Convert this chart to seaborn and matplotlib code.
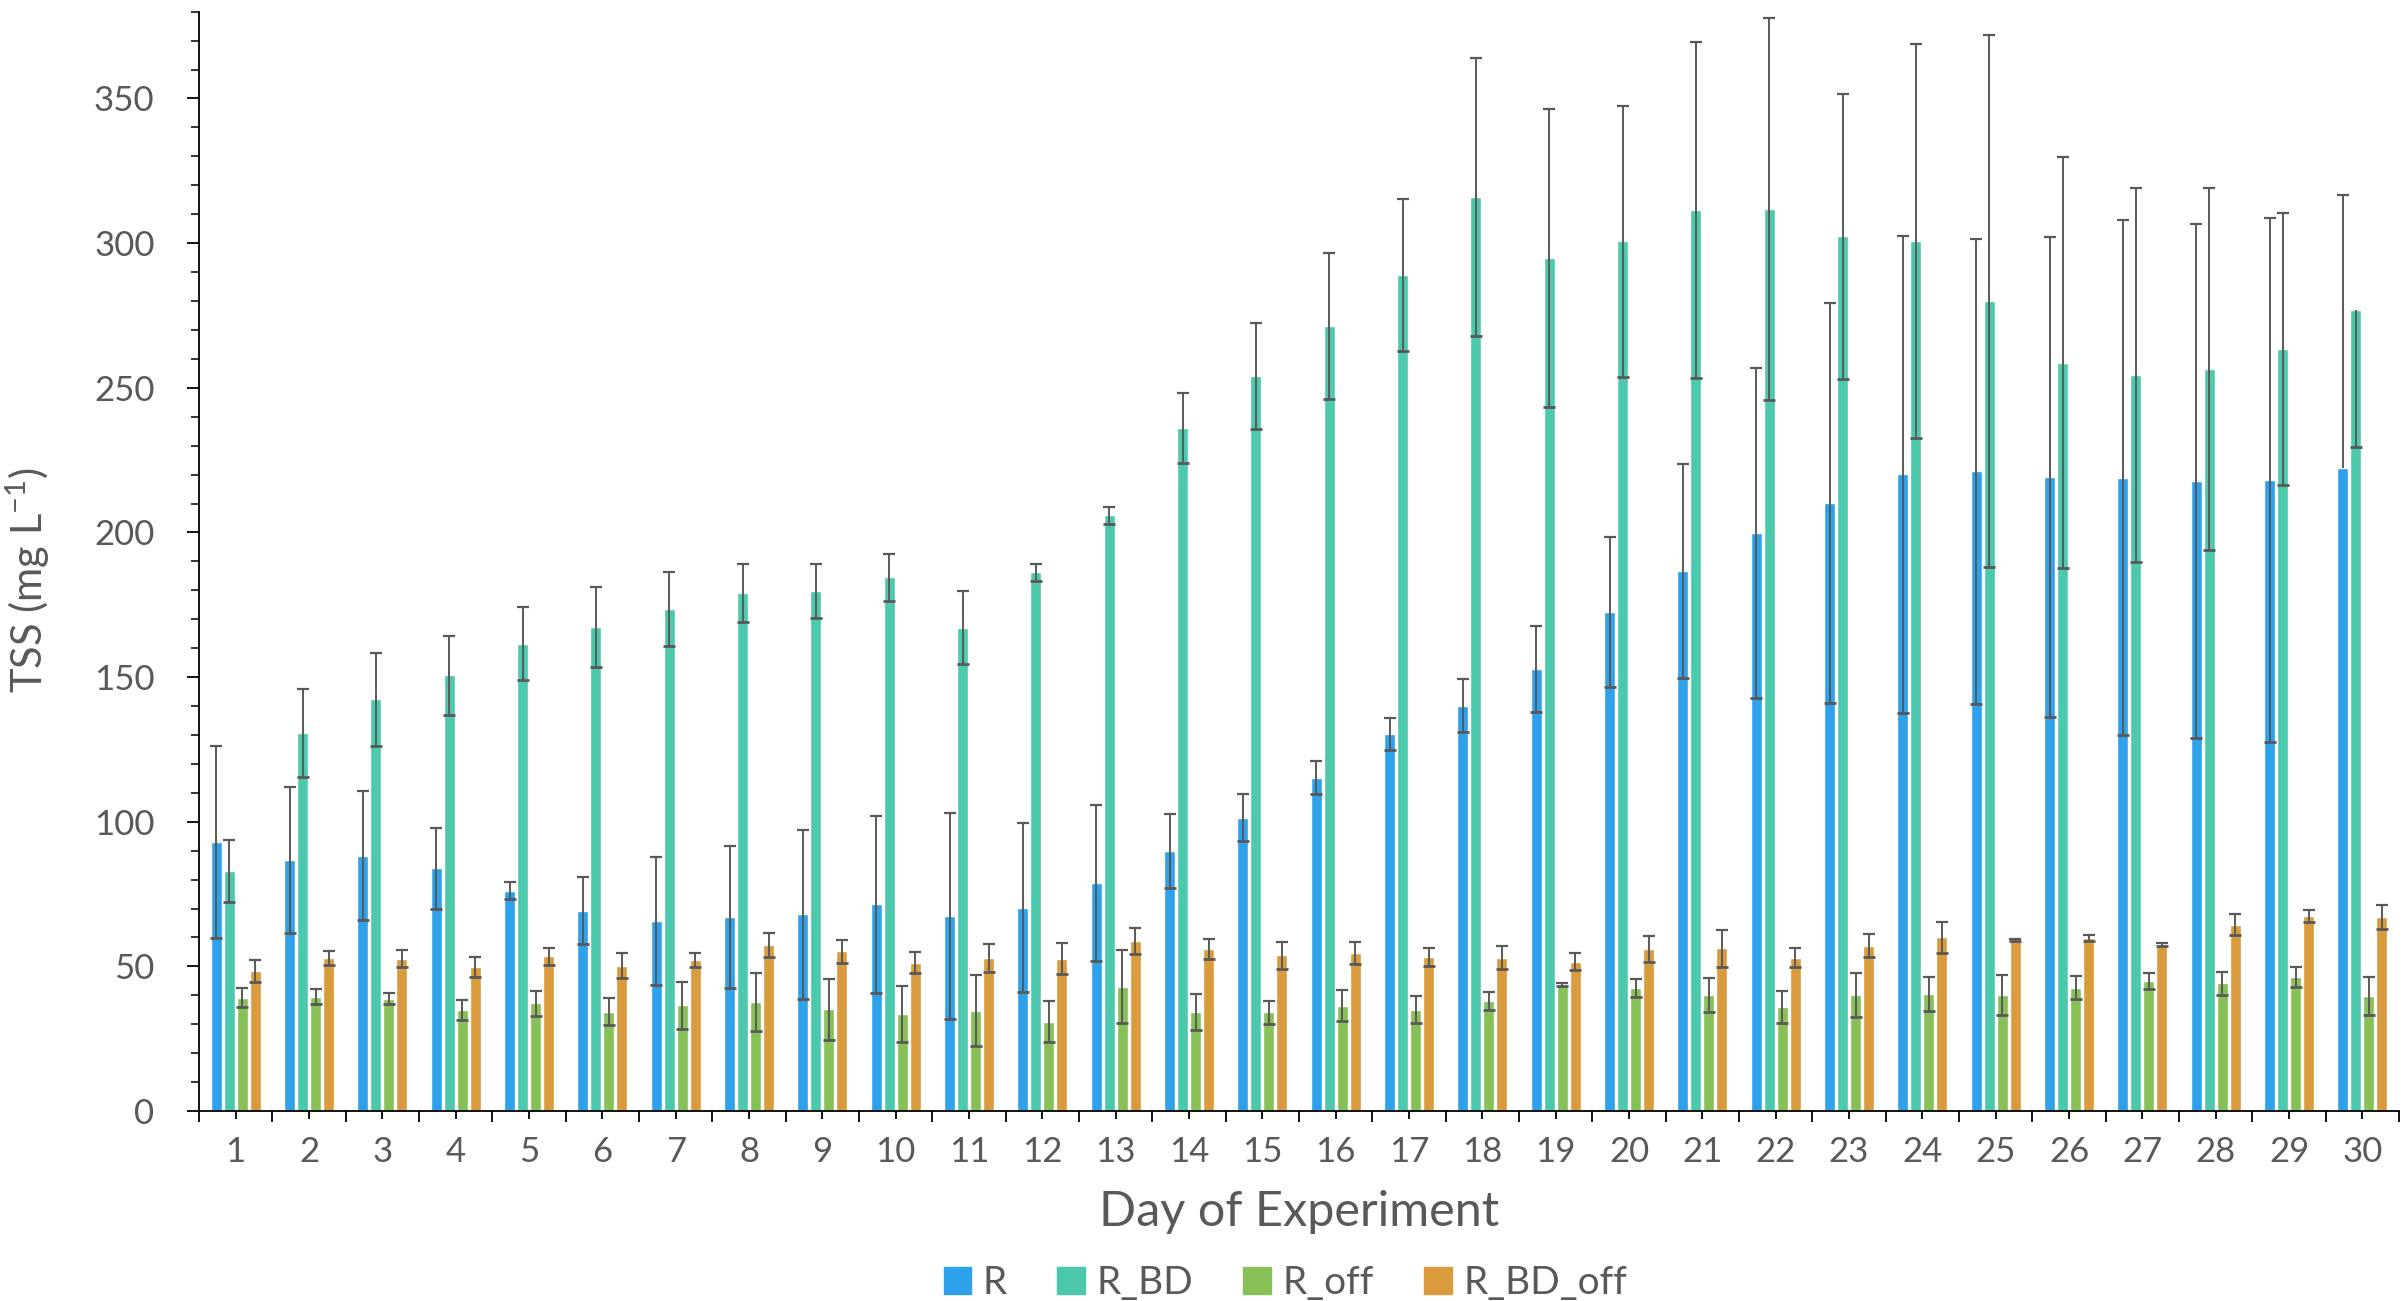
import numpy as np
import pandas as pd
import seaborn as sns
import matplotlib.pyplot as plt

days = [str(d) for d in range(1, 31)]
series = ["R", "R_BD", "R_off", "R_BD_off"]
colors = ["#2FA1EA", "#4CC9AD", "#86C057", "#D99B3E"]

r_mean = [93.0, 86.8, 88.3, 84.0, 76.2, 69.2, 65.7, 67.2, 68.0, 71.4,
          67.4, 70.2, 78.9, 89.9, 101.4, 115.2, 130.3, 140.1, 152.9, 172.5,
          186.7, 199.9, 210.2, 220.1, 221.1, 219.2, 218.9, 217.8, 218.2, 222.2]
r_err_lo = [33.2, 25.2, 22.3, 14.0, 2.9, 11.6, 22.0, 24.5, 29.2, 30.7,
            35.5, 29.2, 27.0, 12.7, 8.1, 5.7, 5.5, 9.2, 14.8, 25.8,
            37.0, 57.0, 69.0, 82.5, 80.5, 83.0, 89.0, 88.8, 90.5, 0.0]
r_err_hi = [33.2, 25.2, 22.3, 14.0, 2.9, 11.6, 22.0, 24.5, 29.2, 30.7,
            35.5, 29.2, 27.0, 12.7, 8.1, 5.7, 5.5, 9.2, 14.8, 25.8,
            37.0, 57.0, 69.0, 82.5, 80.5, 83.0, 89.0, 88.8, 90.5, 94.4]

rbd_mean = [83.0, 130.6, 142.3, 150.6, 161.6, 167.3, 173.7, 179.1, 179.8, 184.5,
            167.0, 186.2, 205.9, 236.0, 254.0, 271.3, 289.0, 315.9, 294.8, 300.7,
            311.5, 311.9, 302.3, 300.7, 279.9, 258.7, 254.4, 256.6, 263.5, 276.8]
rbd_err_lo = [10.7, 15.3, 16.0, 13.7, 12.7, 13.7, 12.8, 10.1, 9.4, 8.1,
              12.6, 2.9, 3.0, 12.1, 18.3, 25.3, 26.4, 48.0, 51.6, 46.8,
              58.0, 66.0, 49.4, 68.0, 92.0, 71.0, 64.5, 62.5, 47.0, 47.1]
rbd_err_hi = [10.7, 15.3, 16.0, 13.7, 12.7, 13.7, 12.8, 10.1, 9.4, 8.1,
              12.6, 2.9, 3.0, 12.1, 18.3, 25.3, 26.4, 48.0, 51.6, 46.8,
              58.0, 66.0, 49.4, 68.0, 92.0, 71.0, 64.5, 62.5, 47.0, 0.0]

roff_mean = [39.2, 39.5, 38.9, 35.0, 37.2, 34.4, 36.5, 37.6, 35.2, 33.6,
             34.7, 30.8, 43.0, 34.2, 34.1, 36.4, 35.0, 38.1, 43.6, 42.6,
             40.1, 35.9, 40.1, 40.4, 40.1, 42.7, 45.0, 44.2, 46.4, 39.8]
roff_err = [3.4, 2.6, 1.8, 3.4, 4.2, 4.7, 8.2, 10.0, 10.6, 9.6,
            12.2, 7.1, 12.6, 6.2, 4.0, 5.4, 4.6, 3.0, 0.5, 3.1,
            5.8, 5.5, 7.5, 5.8, 6.8, 4.0, 2.7, 4.0, 3.5, 6.5]

rbdoff_mean = [48.4, 52.9, 52.7, 49.8, 53.5, 50.3, 52.3, 57.5, 55.2, 51.3,
               52.9, 52.7, 58.9, 56.0, 53.8, 54.6, 53.3, 53.0, 51.6, 56.0,
               56.3, 53.0, 57.2, 60.0, 59.1, 59.8, 57.5, 64.4, 67.5, 67.2]
rbdoff_err = [3.8, 2.5, 3.0, 3.3, 3.0, 4.4, 2.4, 4.1, 4.0, 3.7,
              4.7, 5.3, 4.5, 3.4, 4.7, 3.9, 3.2, 3.9, 2.9, 4.6,
              6.4, 3.2, 4.0, 5.4, 0.3, 0.9, 0.5, 3.6, 2.0, 4.1]

means = [r_mean, rbd_mean, roff_mean, rbdoff_mean]
errs_lo = [r_err_lo, rbd_err_lo, roff_err, rbdoff_err]
errs_hi = [r_err_hi, rbd_err_hi, roff_err, rbdoff_err]

rows = []
for s, m in zip(series, means):
    for d, v in zip(days, m):
        rows.append({"Day": d, "TSS": v, "Series": s})
df = pd.DataFrame(rows)

sns.set_theme(style="ticks")
plt.rcParams['font.family'] = ['Lato', 'DejaVu Sans']
grey = "#595959"
plt.rcParams.update({
    "text.color": grey, "axes.labelcolor": grey,
    "xtick.labelcolor": grey, "ytick.labelcolor": grey,
    "xtick.color": "black", "ytick.color": "black",
})

fig = plt.figure(figsize=(24.07, 13.01), dpi=100)
ax = fig.add_axes([0.0827, 0.146, 0.9140, 0.845])

sns.barplot(data=df, x="Day", y="TSS", hue="Series", order=days, hue_order=series,
            palette=colors, width=0.71, gap=0.15, saturation=1, errorbar=None,
            ax=ax, legend=True)

# error bars drawn at the centre of each seaborn bar
for cont, lo, hi in zip(ax.containers, errs_lo, errs_hi):
    xs = np.array([p.get_x() + p.get_width() / 2 for p in cont])
    ys = np.array([p.get_height() for p in cont])
    lo = np.array(lo)
    hi = np.array(hi)
    ax.errorbar(xs, ys, yerr=[lo, hi], fmt="none", ecolor=grey, elinewidth=1.4,
                capsize=0, zorder=3)
    ax.plot(xs[hi > 0], (ys + hi)[hi > 0], ls="none", marker="_", ms=8.5,
            mew=1.6, color=grey, zorder=3)
    ax.plot(xs[lo > 0], (ys - lo)[lo > 0], ls="none", marker="_", ms=8.5,
            mew=2.0, color=grey, zorder=3)

ax.set_xlim(-0.5, 29.5)
ax.set_ylim(0, 380)
ax.set_yticks(np.arange(0, 351, 50))
ax.set_yticks(np.arange(0, 381, 10), minor=True)
ax.set_xticks(range(30))
ax.set_xticklabels(days)
ax.set_xticks(np.arange(-0.5, 30, 1), minor=True)

ax.tick_params(axis="y", which="major", length=9, width=1.3, pad=23, labelsize=25)
ax.tick_params(axis="y", which="minor", length=6, width=1.1, left=True)
ax.tick_params(axis="x", which="major", length=6, width=1.3, pad=12, labelsize=25)
ax.tick_params(axis="x", which="minor", length=8, width=1.3, bottom=True)

for side in ["top", "right"]:
    ax.spines[side].set_visible(False)
for side in ["left", "bottom"]:
    ax.spines[side].set_color("black")
    ax.spines[side].set_linewidth(1.3)

ax.set_xlabel("Day of Experiment", fontsize=35)
ax.set_ylabel(r"TSS (mg L$^{\mathregular{-1}}$)", fontsize=30)
ax.xaxis.set_label_coords(0.5, -0.072)
ax.yaxis.set_label_coords(-0.067, 0.483)

ax.get_legend().remove()
handles = [plt.Rectangle((0, 0), 1, 1, color=c) for c in colors]
fig.legend(handles, series, loc="center", bbox_to_anchor=(0.534, 0.014), ncol=4,
           frameon=False, fontsize=28, handlelength=0.7, handleheight=0.7,
           handletextpad=0.3, columnspacing=1.3)

plt.savefig("out.png", dpi=100)
